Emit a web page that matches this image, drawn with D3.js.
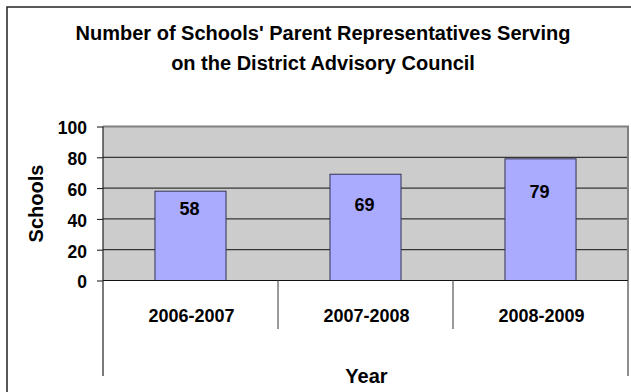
<!DOCTYPE html>
<html>
<head>
<meta charset="utf-8">
<script src="https://cdn.jsdelivr.net/npm/d3@7"></script>
<style>
  html, body { margin: 0; padding: 0; background: #fff; }
  svg { display: block; font-family: "Liberation Sans", Arial, sans-serif; font-weight: bold; }
</style>
</head>
<body>
<svg id="chart" width="631" height="392"></svg>
<script>
// Chart data
const years = ["2006-2007", "2007-2008", "2008-2009"];
const schools = [58, 69, 79];
const yTicks = [0, 20, 40, 60, 80, 100];
const titleLines = ["Number of Schools' Parent Representatives Serving", "on the District Advisory Council"];

// Layout
const W = 631, H = 392;
const plot = { left: 103, right: 628, top: 126.5, bottom: 280.5 };
const catLabelY = 322;
const dividerBottom = 329;
const outerBottom = 376;
// how far each value label sits below the top of its bar
const labelDrop = [24, 37, 39];

const svg = d3.select("#chart");

// outer chart frame (runs past the right and bottom edges)
svg.append("rect")
  .attr("x", 7).attr("y", 7)
  .attr("width", W + 10).attr("height", H + 10)
  .attr("fill", "#fff").attr("stroke", "#222").attr("stroke-width", 1.5);

const x = d3.scaleBand()
  .domain(years)
  .range([plot.left, plot.right])
  .paddingInner(0.594)
  .paddingOuter(0.297);
const step = x.step();

const y = d3.scaleLinear().domain([0, 100]).range([plot.bottom, plot.top]);

// plot background
svg.append("rect")
  .attr("x", plot.left).attr("y", y(100))
  .attr("width", plot.right - plot.left).attr("height", y(0) - y(100))
  .attr("fill", "#cccccc");

// gridlines
svg.append("g")
  .selectAll("line")
  .data(yTicks.filter(t => t > 0 && t < 100))
  .join("line")
  .attr("x1", plot.left).attr("x2", plot.right)
  .attr("y1", d => y(d)).attr("y2", d => y(d))
  .attr("stroke", "#111").attr("stroke-width", 1);

// top and right edges of plot area
svg.append("path")
  .attr("d", `M${plot.left},${y(100)}H${plot.right}V${y(0)}`)
  .attr("fill", "none").attr("stroke", "#808080").attr("stroke-width", 2);

// bars
svg.append("g")
  .selectAll("rect")
  .data(years)
  .join("rect")
  .attr("x", d => x(d))
  .attr("y", (d, i) => y(schools[i]))
  .attr("width", x.bandwidth())
  .attr("height", (d, i) => y(0) - y(schools[i]))
  .attr("fill", "#aaaaff")
  .attr("stroke", "#333355").attr("stroke-width", 1);

// value labels
svg.append("g")
  .selectAll("text")
  .data(years)
  .join("text")
  .attr("x", d => x(d) + x.bandwidth() / 2 - 1)
  .attr("y", (d, i) => y(schools[i]) + labelDrop[i])
  .attr("text-anchor", "middle")
  .attr("font-size", 18)
  .attr("fill", "#000")
  .text((d, i) => schools[i]);

// y axis
const yAxis = d3.axisLeft(y).tickValues(yTicks).tickSize(6).tickPadding(10);
const gy = svg.append("g")
  .attr("transform", `translate(${plot.left},0)`)
  .call(yAxis);
gy.select(".domain").remove();
gy.selectAll(".tick line").attr("stroke", "#111");
gy.selectAll(".tick text")
  .attr("font-size", 17.5)
  .attr("font-family", "Liberation Sans, Arial, sans-serif")
  .attr("font-weight", "bold")
  .attr("fill", "#000")
  .attr("dy", "0.42em");

// x axis line
svg.append("line")
  .attr("x1", plot.left).attr("x2", plot.right)
  .attr("y1", y(0)).attr("y2", y(0))
  .attr("stroke", "#111").attr("stroke-width", 1.2);

// left axis line, running down past the category labels
svg.append("line")
  .attr("x1", plot.left).attr("x2", plot.left)
  .attr("y1", y(100)).attr("y2", outerBottom)
  .attr("stroke", "#222").attr("stroke-width", 1.2);

// right edge running down below the axis
svg.append("line")
  .attr("x1", plot.right).attr("x2", plot.right)
  .attr("y1", y(0)).attr("y2", outerBottom)
  .attr("stroke", "#444").attr("stroke-width", 1.2);

// category dividers
svg.append("g")
  .selectAll("line")
  .data(d3.range(1, years.length))
  .join("line")
  .attr("x1", i => plot.left + i * step).attr("x2", i => plot.left + i * step)
  .attr("y1", y(0)).attr("y2", dividerBottom)
  .attr("stroke", "#555").attr("stroke-width", 1.2);

// category labels
svg.append("g")
  .selectAll("text")
  .data(years)
  .join("text")
  .attr("x", d => x(d) + x.bandwidth() / 2 + 1)
  .attr("y", catLabelY)
  .attr("text-anchor", "middle")
  .attr("font-size", 18)
  .text(d => d);

// axis titles
svg.append("text")
  .attr("x", (plot.left + plot.right) / 2 + 1)
  .attr("y", 382.5)
  .attr("text-anchor", "middle")
  .attr("font-size", 20)
  .text("Year");

svg.append("text")
  .attr("transform", `translate(43,${(y(0) + y(100)) / 2}) rotate(-90)`)
  .attr("text-anchor", "middle")
  .attr("font-size", 20)
  .text("Schools");

// chart title
svg.append("g")
  .selectAll("text")
  .data(titleLines)
  .join("text")
  .attr("x", 323)
  .attr("y", (d, i) => 39.5 + i * 30.7)
  .attr("text-anchor", "middle")
  .attr("font-size", 20)
  .text(d => d);
</script>
</body>
</html>
